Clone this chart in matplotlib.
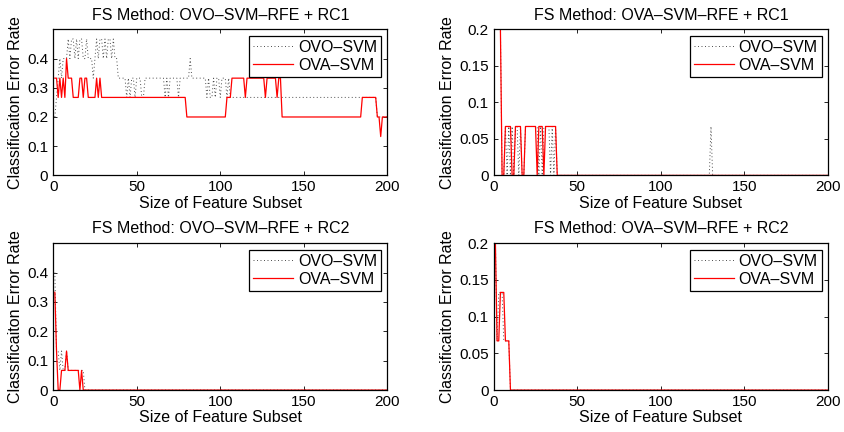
import numpy as np
import matplotlib
matplotlib.use('Agg')
import matplotlib.pyplot as plt

plt.rcParams['font.family'] = ['Liberation Sans', 'DejaVu Sans']
plt.rcParams['font.size'] = 11

# error rates, stored as (value, run length) over
# feature subset sizes 1..200

# OVO-SVM-RFE + RC1
tl_ovo = [(.2, 1), (.267, 1), (.333, 1), (.4, 1), (.333, 1), (.4, 3), (.467, 1), (.4, 1),
          (.467, 2), (.4, 1), (.467, 1), (.4, 1), (.467, 2), (.4, 2), (.467, 1), (.4, 3),
          (.333, 1), (.4, 1), (.467, 1), (.4, 1), (.467, 2), (.4, 1), (.467, 1), (.4, 1),
          (.467, 2), (.4, 1), (.467, 1), (.4, 2), (.333, 5), (.267, 1), (.333, 1), (.267, 1),
          (.333, 2), (.267, 1), (.333, 3), (.267, 2), (.333, 12), (.267, 1), (.333, 1),
          (.267, 1), (.333, 5), (.267, 1), (.333, 6), (.4, 1), (.333, 9), (.267, 1),
          (.333, 1), (.267, 2), (.333, 1), (.267, 1), (.333, 2), (.267, 1), (.333, 3),
          (.267, 1), (.333, 1), (.267, 88), (.2, 7)]
tl_ova = [(.333, 2), (.267, 1), (.333, 1), (.267, 1), (.333, 1), (.267, 1), (.4, 1),
          (.333, 3), (.267, 4), (.333, 2), (.267, 1), (.333, 2), (.267, 5), (.333, 1),
          (.267, 1), (.333, 1), (.267, 51), (.2, 24), (.267, 3), (.333, 8), (.267, 1),
          (.333, 11), (.267, 1), (.333, 6), (.267, 1), (.333, 2), (.2, 48), (.267, 9),
          (.2, 2), (.133, 1), (.2, 4)]

# OVA-SVM-RFE + RC1
tr_ovo = [(.2, 4), (0, 2), (.067, 1), (0, 1), (.067, 1), (0, 1), (.067, 1), (0, 1),
          (.067, 2), (0, 1), (.067, 1), (0, 2), (.067, 8), (0, 1), (.067, 1), (0, 1),
          (.067, 4), (0, 1), (.067, 1), (0, 1), (.067, 1), (0, 92), (.067, 1), (0, 70)]
tr_ova = [(.2, 4), (0, 2), (.067, 4), (0, 2), (.067, 4), (0, 2), (.067, 7), (0, 1),
          (.067, 3), (0, 1), (.067, 7), (0, 163)]

# OVO-SVM-RFE + RC2
bl_ovo = [(.4, 1), (.133, 2), (.067, 1), (.133, 1), (.067, 2), (.133, 1), (.067, 10), (0, 182)]
bl_ova = [(.333, 1), (.133, 1), (0, 2), (.067, 3), (.133, 1), (.067, 7), (0, 1), (.067, 1), (0, 183)]

# OVA-SVM-RFE + RC2
br_ovo = [(.2, 1), (.067, 1), (.133, 3), (.067, 4), (0, 191)]
br_ova = [(.2, 1), (.067, 2), (.133, 3), (.067, 3), (0, 191)]

titles = ['FS Method: OVO\u2013SVM\u2013RFE + RC1', 'FS Method: OVA\u2013SVM\u2013RFE + RC1',
          'FS Method: OVO\u2013SVM\u2013RFE + RC2', 'FS Method: OVA\u2013SVM\u2013RFE + RC2']
left_yticks = [0, 0.1, 0.2, 0.3, 0.4]
left_ylabels = ['0', '0.1', '0.2', '0.3', '0.4']
right_yticks = [0, 0.05, 0.1, 0.15, 0.2]
right_ylabels = ['0', '0.05', '0.1', '0.15', '0.2']
xticks = [0, 50, 100, 150, 200]


def expand(runs):
    return np.concatenate([np.full(n, v) for v, n in runs])


fig = plt.figure(figsize=(8.44, 4.32), dpi=100)

boxes = [[0.063, 0.594, 0.396, 0.338], [0.585, 0.594, 0.396, 0.338],
         [0.063, 0.097, 0.396, 0.340], [0.585, 0.097, 0.396, 0.340]]
series = [(tl_ovo, tl_ova), (tr_ovo, tr_ova), (bl_ovo, bl_ova), (br_ovo, br_ova)]

for i in range(4):
    ax = fig.add_axes(boxes[i])
    ovo, ova = series[i]
    x = np.arange(1, 201)
    ax.plot(x, expand(ovo), color='0.3', linestyle=(0, (1, 2.6)), linewidth=0.7, label='OVO\u2013SVM')
    ax.plot(x, expand(ova), color='red', linewidth=0.9, label='OVA\u2013SVM')

    ax.set_xlim(0, 200)
    ax.set_xticks(xticks)
    if i % 2 == 0:
        ax.set_ylim(0, 0.5)
        ax.set_yticks(left_yticks)
        ax.set_yticklabels(left_ylabels)
    else:
        ax.set_ylim(0, 0.2)
        ax.set_yticks(right_yticks)
        ax.set_yticklabels(right_ylabels)

    ax.tick_params(direction='in', top=True, right=True, length=3, width=0.6, labelsize=11)
    for s in ax.spines.values():
        s.set_linewidth(0.9)

    ax.set_title(titles[i], fontsize=11.5, pad=7)
    ax.set_xlabel('Size of Feature Subset', fontsize=11.5, labelpad=1)
    ax.set_ylabel('Classificaiton Error Rate', fontsize=11.5, labelpad=3)

    leg = ax.legend(loc='upper right', fancybox=False, framealpha=1, edgecolor='black',
                    borderaxespad=0.4, handlelength=2.5, handletextpad=0.3,
                    labelspacing=0.2, borderpad=0.25, fontsize=11.5)
    leg.get_frame().set_linewidth(0.9)

fig.savefig('out.png', dpi=100)
